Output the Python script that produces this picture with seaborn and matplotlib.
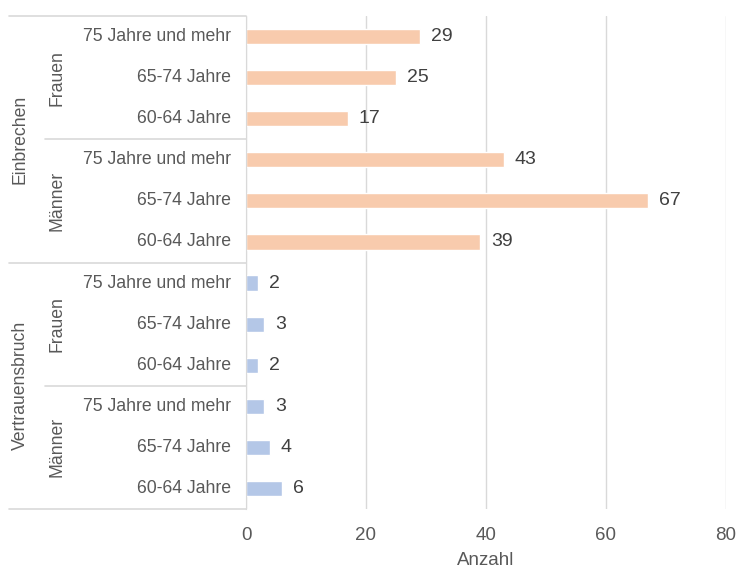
import pandas as pd
import matplotlib
matplotlib.use('Agg')
import matplotlib.pyplot as plt
import matplotlib.transforms as mtransforms
from matplotlib.lines import Line2D
import seaborn as sns

# Daten
delikte = ['Einbrechen'] * 6 + ['Vertrauensbruch'] * 6
geschlecht = ['Frauen'] * 3 + ['Männer'] * 3 + ['Frauen'] * 3 + ['Männer'] * 3
alter = ['75 Jahre und mehr', '65-74 Jahre', '60-64 Jahre'] * 4
anzahl = [29, 25, 17, 43, 67, 39, 2, 3, 2, 3, 4, 6]

df = pd.DataFrame({'Delikt': delikte, 'Geschlecht': geschlecht,
                   'Alter': alter, 'Anzahl': anzahl})
df['Zeile'] = [f'{i:02d}' for i in range(len(df))]

sns.set_style('white')
plt.rcParams['font.family'] = ['Liberation Sans', 'DejaVu Sans']

fig = plt.figure(figsize=(7.38, 5.69), dpi=100)
ax = fig.add_axes([246 / 738, (569 - 509) / 569, 480 / 738, 493 / 569])

farben = {'Einbrechen': '#F8CBAD', 'Vertrauensbruch': '#B4C7E7'}
sns.barplot(data=df, y='Zeile', x='Anzahl', hue='Delikt', palette=farben,
            dodge=False, width=0.37, orient='h', legend=False, saturation=1, ax=ax)

ax.set_xlim(0, 80)
ax.set_xticks([0, 20, 40, 60, 80])
ax.xaxis.grid(True, color='#D9D9D9', linewidth=1)
ax.set_axisbelow(True)
for s in ['top', 'right', 'bottom']:
    ax.spines[s].set_visible(False)
ax.spines['left'].set_color('#D9D9D9')
ax.tick_params(axis='x', length=0, labelsize=13.5, colors='#595959', pad=13)
ax.set_yticks(range(len(df)))
ax.set_yticklabels([])
ax.tick_params(axis='y', length=0)
ax.set_ylabel('')
ax.set_xlabel('Anzahl', fontsize=13.5, color='#595959', labelpad=6)

# Wertebeschriftungen
for i, v in enumerate(anzahl):
    ax.text(v + 1.8, i, str(v), va='center', ha='left', fontsize=14, color='#404040')

# hierarchische Achsenbeschriftung
trans = mtransforms.blended_transform_factory(fig.transFigure, ax.transData)
for i, a in enumerate(alter):
    fig.text(231 / 738, i, a, transform=trans, ha='right', va='center',
             fontsize=12.7, color='#595959')
for start in range(0, 12, 3):
    fig.text(57 / 738, start + 1, geschlecht[start], transform=trans, rotation=90,
             ha='center', va='center', fontsize=12.7, color='#595959')
for start in range(0, 12, 6):
    fig.text(20 / 738, start + 2.5, delikte[start], transform=trans, rotation=90,
             ha='center', va='center', fontsize=12.7, color='#595959')

for y in [-0.5, 5.5, 11.5]:
    fig.add_artist(Line2D([9 / 738, 246 / 738], [y, y], transform=trans,
                          color='#D9D9D9', linewidth=1.2))
for y in [2.5, 8.5]:
    fig.add_artist(Line2D([45 / 738, 246 / 738], [y, y], transform=trans,
                          color='#D9D9D9', linewidth=1.2))

fig.savefig('out.png', dpi=100)
